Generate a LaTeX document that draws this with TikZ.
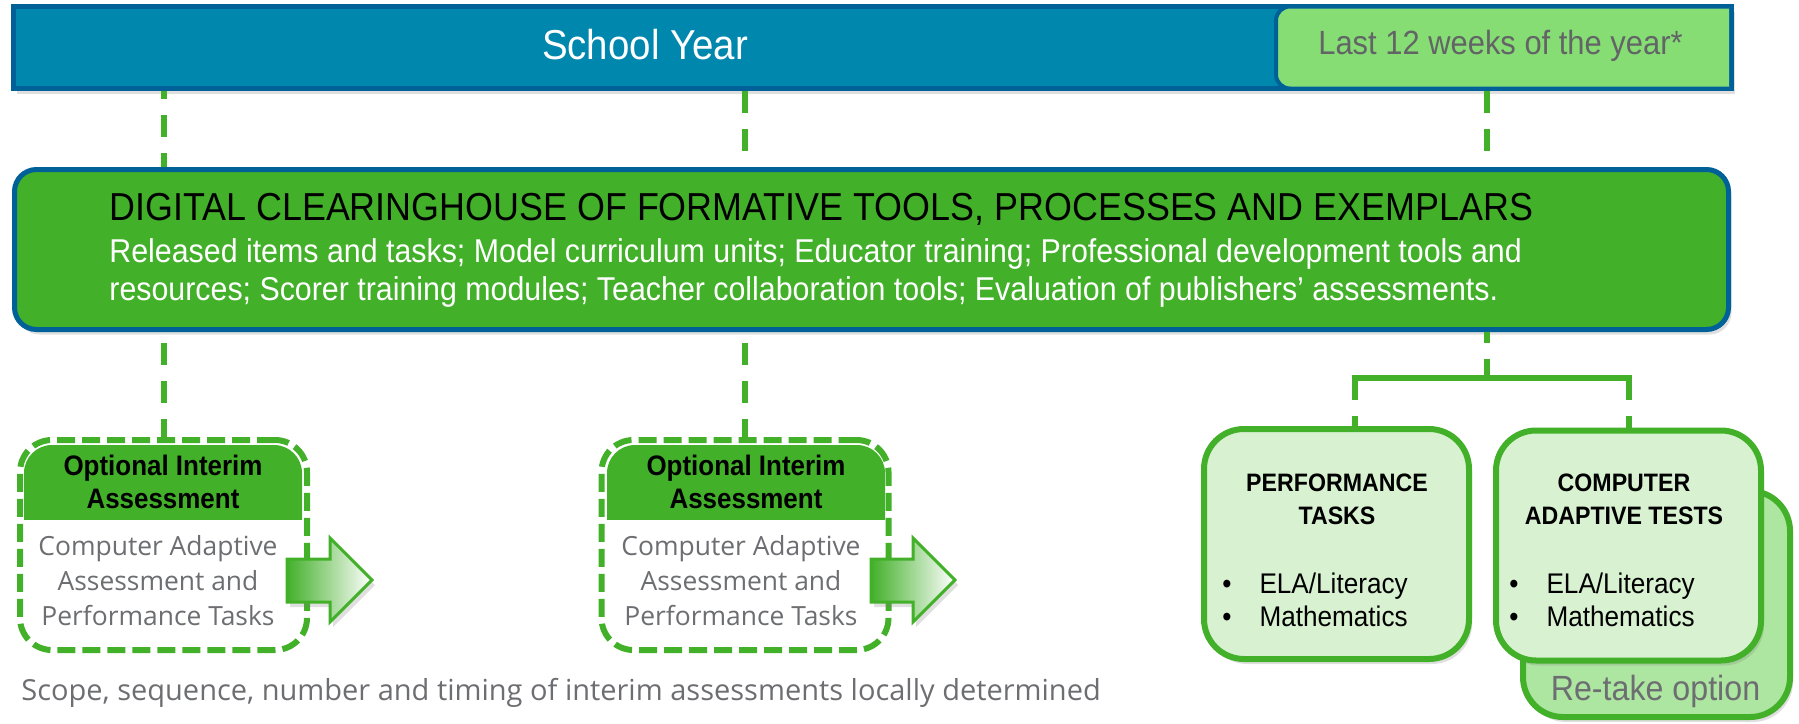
\documentclass[tikz,border=0pt]{standalone}
\usepackage{fontspec}
\setmainfont{Liberation Sans}
\newfontfamily\condfont{Liberation Sans}[FakeStretch=0.92]
\newfontfamily\bodyfont{Open Sans}
\usetikzlibrary{shadows}

\definecolor{yearteal}{RGB}{0,135,173}
\definecolor{bordblue}{RGB}{0,96,152}
\definecolor{lastgreen}{RGB}{133,221,116}
\definecolor{hubgreen}{RGB}{67,176,42}
\definecolor{palegreen}{RGB}{216,242,209}
\definecolor{retakegreen}{RGB}{173,230,160}
\definecolor{txtgray}{RGB}{109,110,113}

\tikzset{
  softshadow/.style={drop shadow={shadow xshift=1.5pt,shadow yshift=-2.5pt,opacity=0.25}},
  link/.style={draw=hubgreen,line width=3pt,dash pattern=on 11pt off 8pt},
  tie/.style={draw=hubgreen,line width=3pt,line cap=rect},
  optbox/.style={draw=hubgreen,line width=3pt,dash pattern=on 9pt off 3.5pt,rounded corners=16pt,fill=white,minimum width=143.5pt,minimum height=105pt,inner sep=0pt},
  testbox/.style={draw=hubgreen,line width=3pt,fill=palegreen,rounded corners=20pt,minimum width=132.5pt,minimum height=115pt,inner sep=0pt,softshadow},
  moves/.style={draw=hubgreen,line width=1.5pt,left color=hubgreen,right color=white},
  headtxt/.style={inner sep=0pt,align=center,font=\condfont\bfseries\fontsize{14.1}{16.5}\selectfont},
  bodytxt/.style={inner sep=0pt,align=center,text=txtgray,font=\bodyfont\fontsize{13.2}{17.5}\selectfont},
  testtxt/.style={inner sep=0pt,align=center,font=\condfont\bfseries\fontsize{12.6}{16.5}\selectfont},
  bullettxt/.style={inner sep=0pt,anchor=west,font=\condfont\fontsize{14.2}{16.5}\selectfont}
}

\begin{document}
\begin{tikzpicture}[x=0.5pt,y=0.5pt,yscale=-1]
\useasboundingbox (0,0) rectangle (1799,723);

%Shape: School year bar
\node[fill=yearteal,draw=bordblue,line width=2.5pt,minimum width=859pt,minimum height=41pt,inner sep=0pt,softshadow] (year) at (872.5,47.5) {};
\path[fill=lastgreen,draw=bordblue,line width=2pt,rounded corners=7pt] (1729,6.5) -- (1276,6.5) -- (1276,88.5) -- (1729,88.5);
% Text Node
\node[anchor=base,inner sep=0pt,text=white,font=\condfont\fontsize{20.9}{24}\selectfont] (yearlabel) at (645,59) {School Year};
% Text Node
\node[anchor=base,inner sep=0pt,text={rgb,255:red,99;green,100;blue,102},font=\condfont\fontsize{16.8}{20}\selectfont] (last12) at (1500.5,54) {Last 12 weeks of the year*};

%Shape: Clearinghouse box
\node[fill=hubgreen,draw=bordblue,line width=2.5pt,rounded corners=11pt,minimum width=857pt,minimum height=80pt,inner sep=0pt,softshadow] (hub) at (871.5,249.5) {};
% Text Node
\node[anchor=base west,inner sep=0pt,font=\condfont\fontsize{19.5}{23}\selectfont] (hubtitle) at (109,220) {DIGITAL CLEARINGHOUSE OF FORMATIVE TOOLS, PROCESSES AND EXEMPLARS};
% Text Node
\node[anchor=base west,inner sep=0pt,text=white,font=\condfont\fontsize{16.5}{19}\selectfont] (hubline1) at (109,262) {Released items and tasks; Model curriculum units; Educator training; Professional development tools and};
% Text Node
\node[anchor=base west,inner sep=0pt,text=white,font=\condfont\fontsize{16.5}{19}\selectfont] (hubline2) at (109,300) {resources; Scorer training modules; Teacher collaboration tools; Evaluation of publishers’ assessments.};

%Shape: Optional interim boxes
\node[optbox] (opt1) at (163.5,545) {};
\begin{scope}
\clip (24,445) rectangle (302,519);
\fill[hubgreen,rounded corners=14pt] (24,445) rectangle (302,560);
\end{scope}
\node[headtxt] (head1) at (163,482) {Optional Interim\\Assessment};
\node[bodytxt] (body1) at (158,581) {Computer Adaptive\\Assessment and\\Performance Tasks};

\node[optbox] (opt2) at (745,545) {};
\begin{scope}
\clip (607,445) rectangle (885,519);
\fill[hubgreen,rounded corners=14pt] (607,445) rectangle (885,560);
\end{scope}
\node[headtxt] (head2) at (746,482) {Optional Interim\\Assessment};
\node[bodytxt] (body2) at (741,581) {Computer Adaptive\\Assessment and\\Performance Tasks};

%Shape: Block arrows
\path[moves,softshadow] (287,559) -- (330,559) -- (330,538) -- (372,580) -- (330,622) -- (330,602) -- (287,602) -- cycle;
\path[moves,softshadow] (871,559) -- (913,559) -- (913,538) -- (955,580) -- (913,622) -- (913,602) -- (871,602) -- cycle;

% Text Node
\node[anchor=base west,inner sep=0pt,text=txtgray,font=\bodyfont\fontsize{14.5}{18}\selectfont] (scope) at (21,700) {Scope, sequence, number and timing of interim assessments locally determined};

%Shape: Summative boxes
\node[testbox,fill=retakegreen,minimum width=133.5pt,minimum height=113pt] (retake) at (1656.5,604) {};
\node[anchor=base,inner sep=0pt,text=txtgray,font=\condfont\fontsize{17.5}{20}\selectfont] (retakelabel) at (1655.5,700) {Re-take option};
\node[testbox] (perf) at (1336.5,544) {};
\node[testbox] (cat) at (1628.5,545.5) {};
\node[testtxt] (perftitle) at (1337,499.5) {PERFORMANCE\\TASKS};
\node[testtxt] (cattitle) at (1624,499.5) {COMPUTER\\ADAPTIVE TESTS};
\node[bullettxt] (perflist) at (1222,603) {\begin{tabular}{@{}l@{\hspace{14pt}}l@{}}•&ELA/Literacy\\•&Mathematics\end{tabular}};
\node[bullettxt] (catlist) at (1509,603) {\begin{tabular}{@{}l@{\hspace{14pt}}l@{}}•&ELA/Literacy\\•&Mathematics\end{tabular}};

%Straight Lines
\coordinate (fork) at (1487,378);
\draw[link,dash phase=7pt] (opt1.north |- year.south) -- (opt1.north |- hub.north);
\draw[link] (opt2.north |- year.south) -- (opt2.north |- hub.north);
\draw[link] (fork |- year.south) -- (fork |- hub.north);
\draw[link,dash phase=13.5pt] (opt1.north |- hub.south) -- (opt1.north);
\draw[link,dash phase=13.5pt] (opt2.north |- hub.south) -- (opt2.north);
\draw[link,dash phase=5.5pt] (fork |- hub.south) -- (fork);
\draw[tie] ([xshift=9.25pt]perf.north |- fork) -- (cat.north |- fork);
\draw[link] ([xshift=9.25pt]perf.north |- fork) -- ([xshift=9.25pt]perf.north);
\draw[link] (cat.north |- fork) -- (cat.north);

\end{tikzpicture}
\end{document}
